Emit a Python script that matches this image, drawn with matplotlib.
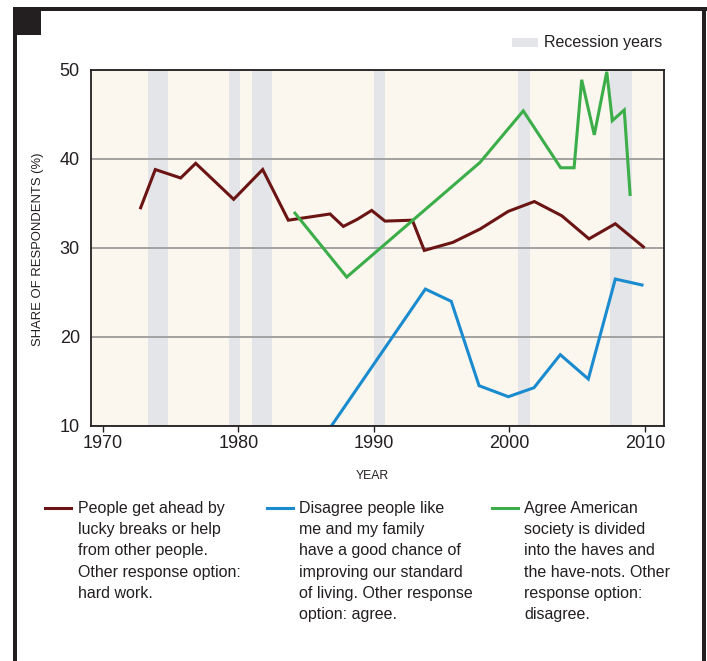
import matplotlib
matplotlib.use("Agg")
import matplotlib.pyplot as plt
from matplotlib.patches import Rectangle
from matplotlib.lines import Line2D

# ---------------- data ----------------
years_luck = [1972.80, 1973.88, 1975.75, 1976.86, 1979.66, 1981.80, 1983.69, 1986.77,
              1987.75, 1988.78, 1989.84, 1990.82, 1992.84, 1993.72, 1995.82, 1997.83,
              1999.92, 2001.84, 2003.86, 2005.87, 2007.81, 2009.88]
vals_luck = [34.5, 38.8, 37.85, 39.5, 35.45, 38.8, 33.1, 33.8, 32.4, 33.2, 34.2, 33.0,
             33.1, 29.7, 30.6, 32.1, 34.1, 35.2, 33.6, 31.0, 32.7, 30.1]

years_chance = [1986.89, 1993.80, 1995.71, 1997.76, 1999.92, 2001.81, 2003.75, 2005.82,
                2007.81, 2009.78]
vals_chance = [10.0, 25.35, 23.97, 14.48, 13.24, 14.25, 17.97, 15.23, 26.48, 25.81]

years_divided = [1984.18, 1988.00, 1997.83, 2001.02, 2003.78, 2004.77, 2005.33, 2006.26,
                 2007.18, 2007.59, 2008.47, 2008.90]
vals_divided = [33.9, 26.7, 39.6, 45.4, 39.0, 39.0, 48.9, 42.7, 49.8, 44.3, 45.5, 36.0]

recession_start = [1973.34, 1979.32, 1981.01, 1990.01, 2000.66, 2007.45]
recession_end = [1974.79, 1980.13, 1982.49, 1990.82, 2001.52, 2009.02]

x_ticks = [1970, 1980, 1990, 2000, 2010]
y_ticks = [10, 20, 30, 40, 50]

labels = [
    "People get ahead by\nlucky breaks or help\nfrom other people.\nOther response option:\nhard work.",
    "Disagree people like\nme and my family\nhave a good chance of\nimproving our standard\nof living. Other response\noption: agree.",
    "Agree American\nsociety is divided\ninto the haves and\nthe have-nots. Other\nresponse option:\ndisagree.",
]

# ---------------- style ----------------
FONT = ["Liberation Sans", "DejaVu Sans"]
plt.rcParams['font.family'] = FONT
DARK = "#231f20"
C_LUCK = "#6b1414"
C_CHANCE = "#1a8bcf"
C_DIV = "#3bae49"
BG = "#fbf6ee"
REC = "#e3e5e8"
GRID = "#9c9c9c"

W, H = 707, 661
fig = plt.figure(figsize=(W / 100, H / 100), dpi=100)


def fx(px):
    return px / W


def fy(py):
    return 1 - py / H


ax = fig.add_axes([fx(91), fy(425.5), fx(663.5) - fx(91), fy(70) - fy(425.5)])
ax.set_facecolor(BG)
ax.set_xlim(1969.137, 2011.365)
ax.set_ylim(10, 50)

for s, e in zip(recession_start, recession_end):
    ax.axvspan(s, e, color=REC, lw=0, zorder=0.5)

ax.set_yticks(y_ticks)
ax.set_xticks(x_ticks)
ax.yaxis.grid(True, color=GRID, lw=1.3, zorder=1)
ax.set_axisbelow(False)

lw = 2.2
ax.plot(years_luck, vals_luck, color=C_LUCK, lw=lw, zorder=3, solid_joinstyle='miter')
ax.plot(years_chance, vals_chance, color=C_CHANCE, lw=lw, zorder=3, solid_joinstyle='miter')
ax.plot(years_divided, vals_divided, color=C_DIV, lw=lw, zorder=3, solid_joinstyle='miter')

for sp in ax.spines.values():
    sp.set_color(DARK)
    sp.set_linewidth(1.3)
    sp.set_zorder(4)

ax.tick_params(axis='x', direction='out', length=4, width=1, color=DARK,
               labelsize=13, labelcolor=DARK, pad=3)
ax.tick_params(axis='y', length=0, labelsize=13, labelcolor=DARK, pad=8)

# axis titles
fig.text(fx(38), fy(249), "SHARE OF RESPONDENTS (%)", rotation=90, ha='center', va='center',
         fontsize=9.4, color=DARK)
fig.text(fx(372), fy(476), "YEAR", ha='center', va='center', fontsize=8.8, color=DARK)

# recession legend
fig.add_artist(Rectangle((fx(512), fy(47)), fx(538) - fx(512), fy(38) - fy(47),
                         transform=fig.transFigure, color=REC, lw=0))
fig.text(fx(544), fy(43), "Recession years", ha='left', va='center', fontsize=11.5, color=DARK)

# series legend
handles_x = [(45, 71), (267, 293), (492, 518)]
text_x = [78, 299, 524]
colors = [C_LUCK, C_CHANCE, C_DIV]
for (x0, x1), tx, c, lab in zip(handles_x, text_x, colors, labels):
    fig.add_artist(Line2D([fx(x0), fx(x1)], [fy(508), fy(508)], transform=fig.transFigure,
                          color=c, lw=2.2))
    fig.text(fx(tx), fy(501), lab, ha='left', va='top', fontsize=11.5, color=DARK,
             linespacing=1.52)

# page frame
fig.add_artist(Rectangle((fx(13), fy(11)), fx(707) - fx(13), fy(7) - fy(11),
                         transform=fig.transFigure, color=DARK, lw=0))
fig.add_artist(Rectangle((fx(13), fy(661)), fx(17) - fx(13), fy(7) - fy(661),
                         transform=fig.transFigure, color=DARK, lw=0))
fig.add_artist(Rectangle((fx(702), fy(661)), fx(706) - fx(702), fy(7) - fy(661),
                         transform=fig.transFigure, color=DARK, lw=0))
fig.add_artist(Rectangle((fx(13), fy(35)), fx(41) - fx(13), fy(11) - fy(35),
                         transform=fig.transFigure, color=DARK, lw=0))

fig.savefig("out.png", dpi=100)
